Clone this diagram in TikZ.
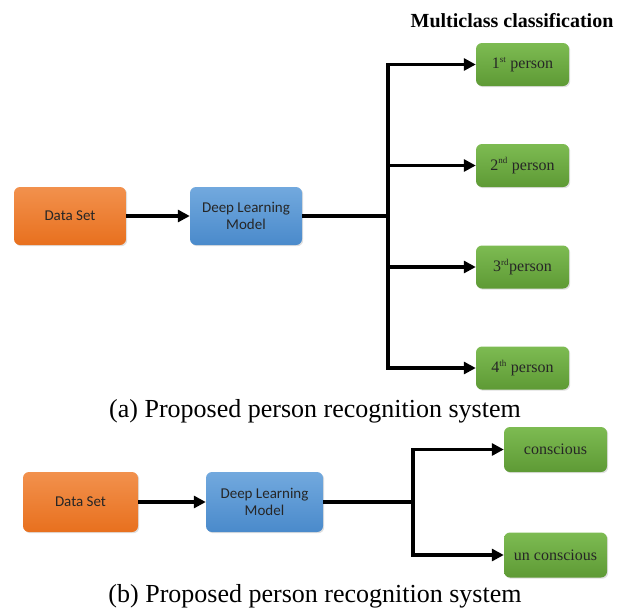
\documentclass[tikz,border=0pt]{standalone}
\usepackage{fontspec}
\setmainfont{Liberation Serif}
\newfontfamily\calib{Carlito}
\usetikzlibrary{arrows.meta,shadows}
\definecolor{orangelight}{HTML}{F2914D}
\definecolor{orangedark}{HTML}{E8701E}
\definecolor{bluelight}{HTML}{72A9DE}
\definecolor{bluedark}{HTML}{4A8ACB}
\definecolor{greenlight}{HTML}{7DBB52}
\definecolor{greendark}{HTML}{5E9A35}
\tikzset{
  box/.style={rounded corners=6pt, inner sep=0pt, align=center, text=black!85,
    drop shadow={opacity=0.25, shadow xshift=1.2pt, shadow yshift=-1.2pt}},
  orangebox/.style={box, minimum width=112pt, minimum height=58pt,
    top color=orangelight, bottom color=orangedark,
    font=\calib\fontsize{15}{17}\selectfont},
  bluebox/.style={box, minimum width=112pt, minimum height=58pt,
    top color=bluelight, bottom color=bluedark,
    font=\calib\fontsize{15}{17}\selectfont},
  greenbox/.style={box, minimum width=93pt, minimum height=43pt,
    top color=greenlight, bottom color=greendark,
    font=\fontsize{16}{18}\selectfont},
  conn/.style={line width=3.5pt, -{Triangle[length=12pt,width=12pt]}},
  trunk/.style={line width=4.5pt},
  caption/.style={font=\fontsize{26}{30}\selectfont, anchor=base},
}
\newcommand{\sps}[1]{\textsuperscript{\fontsize{9}{9}\selectfont #1}}
\begin{document}
\begin{tikzpicture}[x=1pt,y=-1pt]
\useasboundingbox (0,0) rectangle (628,613);
% ---------- (a) ----------
\node[font=\bfseries\fontsize{20}{22}\selectfont] (title) at (512,21) {Multiclass classification};
\node[orangebox] (ds1) at (70,216) {Data Set};
\node[bluebox] (dl1) at (246,216) {Deep Learning\\Model};
\coordinate (j1) at (388,216);
\node[greenbox] (g1) at (522.5,64.5) {1\sps{st} person};
\node[greenbox] (g2) at (522.5,165.5) {2\sps{nd} person};
\node[greenbox] (g3) at (522.5,267) {3\sps{rd}person};
\node[greenbox] (g4) at (522.5,368) {4\sps{th} person};
\draw[conn] (ds1) -- (dl1);
\draw[trunk] (dl1.east) -- (j1);
\draw[conn] (j1) |- (g1.west);
\draw[conn] (j1) |- (g2.west);
\draw[conn] (j1) |- (g3.west);
\draw[conn] (j1) |- (g4.west);
\node[caption] (capa) at (315,417) {(a) Proposed person recognition system};
% ---------- (b) ----------
\node[orangebox, minimum width=115pt, minimum height=60pt] (ds2) at (80.5,502) {Data Set};
\node[bluebox, minimum width=117pt, minimum height=60pt] (dl2) at (264.5,502) {Deep Learning\\Model};
\coordinate (j2) at (413,502);
\node[greenbox, minimum width=103pt, minimum height=45pt] (g5) at (555.5,449.5) {conscious};
\node[greenbox, minimum width=103pt, minimum height=45pt] (g6) at (555.5,555) {un conscious};
\draw[conn] (ds2) -- (dl2);
\draw[trunk] (dl2.east) -- (j2);
\draw[conn] (j2) |- (g5.west);
\draw[conn] (j2) |- (g6.west);
\node[caption] (capb) at (315,602) {(b) Proposed person recognition system};
\end{tikzpicture}
\end{document}
